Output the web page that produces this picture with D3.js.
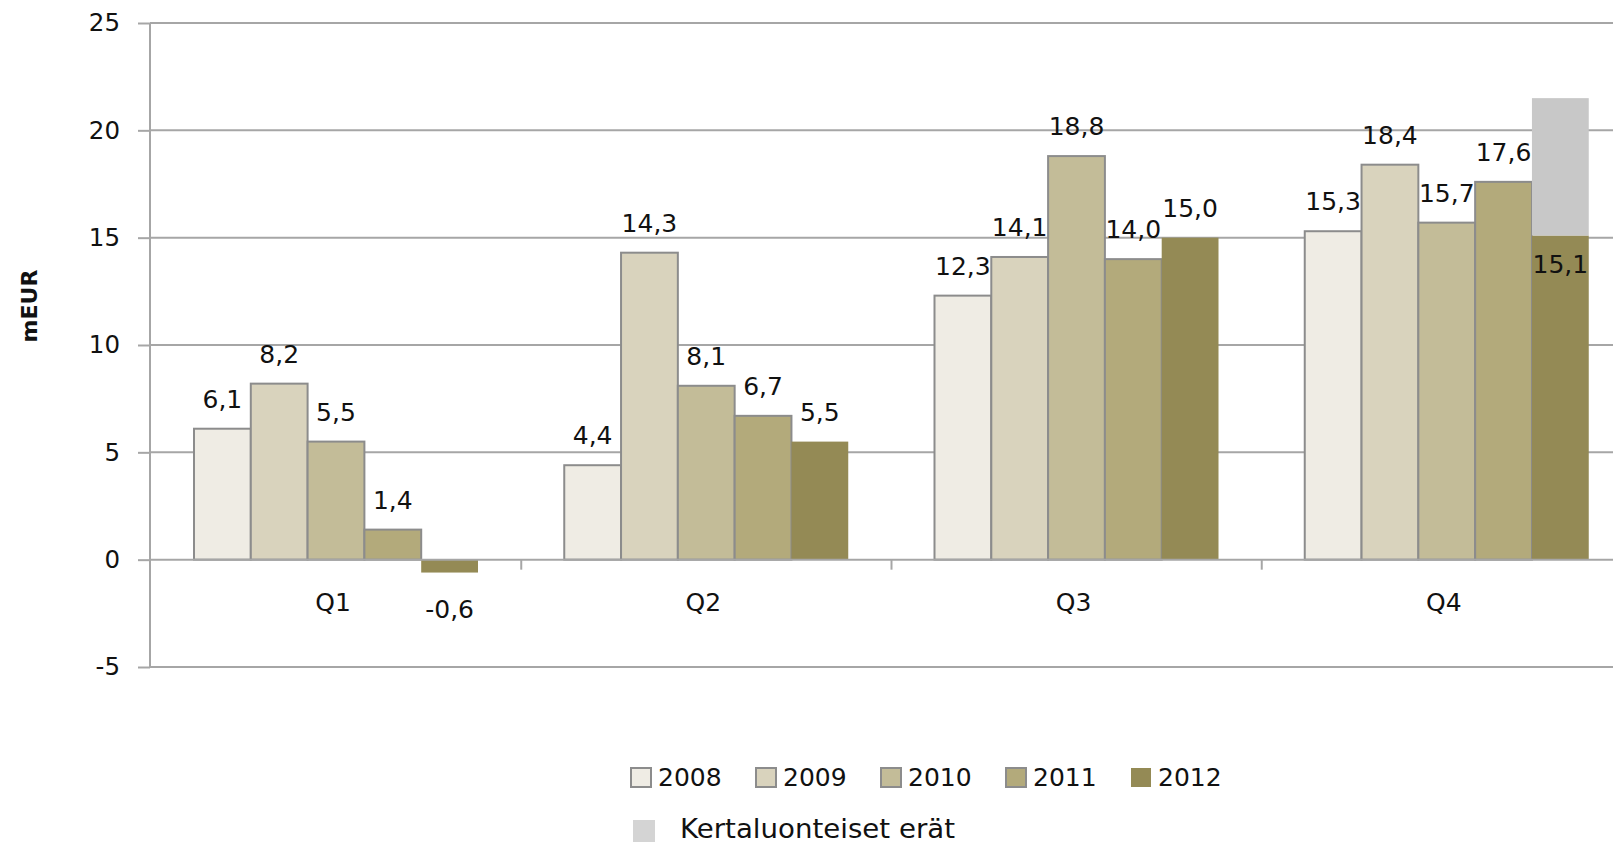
<!DOCTYPE html>
<html>
<head>
<meta charset="utf-8">
<script src="https://cdn.jsdelivr.net/npm/d3@7"></script>
<style>
  html, body { margin: 0; padding: 0; background: #fff; }
  svg { display: block; font-family: "DejaVu Sans", Verdana, sans-serif; }
</style>
</head>
<body>
<svg id="chart" width="1613" height="844"></svg>
<script>
const quarters = ["Q1", "Q2", "Q3", "Q4"];
const years = ["2008", "2009", "2010", "2011", "2012"];
const values2008 = [6.1, 4.4, 12.3, 15.3];
const values2009 = [8.2, 14.3, 14.1, 18.4];
const values2010 = [5.5, 8.1, 18.8, 15.7];
const values2011 = [1.4, 6.7, 14.0, 17.6];
const values2012 = [-0.6, 5.5, 15.0, 15.1];
const oneOffItems = [0, 0, 0, 6.4];
const oneOffLabel = "Kertaluonteiset erät";
const yTicks = [-5, 0, 5, 10, 15, 20, 25];
const yLabel = "mEUR";

const seriesValues = [values2008, values2009, values2010, values2011, values2012];
const colors = ["#efece4", "#d9d3bd", "#c3bc98", "#b3aa7b", "#948a55"];
const oneOffColor = "#c8c8c8";
const borderColor = "#8c8c8c";
const gridColor = "#a6a6a6";
const textColor = "#111";

const svg = d3.select("#chart");
const x0 = d3.scaleBand().domain(quarters).range([151, 1632]).padding(0);
const x1 = d3.scaleBand().domain(years).range([43, 327]).padding(0);
const y = d3.scaleLinear().domain([-5, 25]).range([667, 23]);
const fmt = v => d3.format(".1f")(v).replace(".", ",").replace("−", "-");

// gridlines
svg.append("g").selectAll("line").data(yTicks.filter(t => t !== 0)).join("line")
  .attr("x1", 150).attr("x2", 1632)
  .attr("y1", d => y(d)).attr("y2", d => y(d))
  .attr("stroke", gridColor).attr("stroke-width", 2);

// y axis
const yAxis = d3.axisLeft(y).tickValues(yTicks).tickSize(12).tickPadding(18).tickFormat(d => d3.format("d")(d).replace("−", "-"));
const gy = svg.append("g").attr("transform", "translate(150,0)").call(yAxis);
gy.select(".domain").attr("stroke", gridColor).attr("stroke-width", 2).attr("d", `M0,${y(25)}V${y(-5)}`);
gy.selectAll(".tick line").attr("stroke", gridColor).attr("stroke-width", 2);
gy.selectAll(".tick text").attr("fill", textColor).style("font-size", "24.5px").style("font-family", "DejaVu Sans");

// bars
const rows = [];
quarters.forEach((q, qi) => {
  years.forEach((yr, si) => {
    rows.push({ q, qi, yr, si, v: seriesValues[si][qi] });
  });
});

const gBars = svg.append("g");
gBars.selectAll("rect.bar").data(rows).join("rect")
  .attr("class", "bar")
  .attr("x", d => x0(d.q) + x1(d.yr))
  .attr("width", x1.bandwidth())
  .attr("y", d => y(Math.max(0, d.v)))
  .attr("height", d => Math.abs(y(d.v) - y(0)))
  .attr("fill", d => colors[d.si])
  .attr("stroke", d => d.si === 4 ? "none" : borderColor)
  .attr("stroke-width", 2);

// one-off stacked on top of 2012
const oneRows = quarters.map((q, qi) => ({ q, qi, base: values2012[qi], v: oneOffItems[qi] })).filter(d => d.v > 0);
gBars.selectAll("rect.oneoff").data(oneRows).join("rect")
  .attr("class", "oneoff")
  .attr("x", d => x0(d.q) + x1("2012"))
  .attr("width", x1.bandwidth())
  .attr("y", d => y(d.base + d.v))
  .attr("height", d => y(d.base) - y(d.base + d.v))
  .attr("fill", oneOffColor);

// x axis at zero
svg.append("line").attr("x1", 150).attr("x2", 1632).attr("y1", y(0)).attr("y2", y(0))
  .attr("stroke", gridColor).attr("stroke-width", 2);
svg.append("g").selectAll("line").data(quarters.slice(1)).join("line")
  .attr("x1", d => x0(d)).attr("x2", d => x0(d))
  .attr("y1", y(0)).attr("y2", y(0) + 10)
  .attr("stroke", gridColor).attr("stroke-width", 2);
svg.append("g").selectAll("text").data(quarters).join("text")
  .attr("x", d => x0(d) + x0.bandwidth() / 2 - 3)
  .attr("y", 611)
  .attr("text-anchor", "middle")
  .attr("fill", textColor).style("font-size", "25px")
  .text(d => d);

// data labels
const stackedQ = new Set(oneRows.map(d => d.q));
svg.append("g").selectAll("text").data(rows).join("text")
  .attr("x", d => x0(d.q) + x1(d.yr) + x1.bandwidth() / 2)
  .attr("y", d => {
    if (d.v < 0) return y(d.v) + 45;
    if (d.si === 4 && stackedQ.has(d.q)) return y(d.v) + 37;
    return y(d.v) - 21;
  })
  .attr("text-anchor", "middle")
  .attr("fill", textColor).style("font-size", "25px")
  .text(d => fmt(d.v));

// y label
svg.append("text")
  .attr("transform", "translate(37,306) rotate(-90)")
  .attr("text-anchor", "middle")
  .attr("fill", "#111").style("font-size", "22px").style("font-weight", "bold")
  .text(yLabel);

// legend
const leg = svg.append("g");
const legItems = leg.selectAll("g").data(years).join("g")
  .attr("transform", (d, i) => `translate(${630 + i * 125},767)`);
legItems.append("rect")
  .attr("x", 1).attr("y", 1).attr("width", 20).attr("height", 19)
  .attr("fill", (d, i) => colors[i])
  .attr("stroke", (d, i) => i === 4 ? "none" : borderColor).attr("stroke-width", 2);
legItems.append("text")
  .attr("x", 28).attr("y", 19)
  .attr("fill", textColor).style("font-size", "25px")
  .text(d => d);
const leg2 = leg.append("g").attr("transform", "translate(633,820)");
leg2.append("rect").attr("width", 22).attr("height", 22).attr("fill", "#d4d4d4");
leg2.append("text").attr("x", 47).attr("y", 18)
  .attr("fill", textColor).style("font-size", "27px")
  .attr("textLength", 275).attr("lengthAdjust", "spacingAndGlyphs")
  .text(oneOffLabel);
</script>
</body>
</html>
